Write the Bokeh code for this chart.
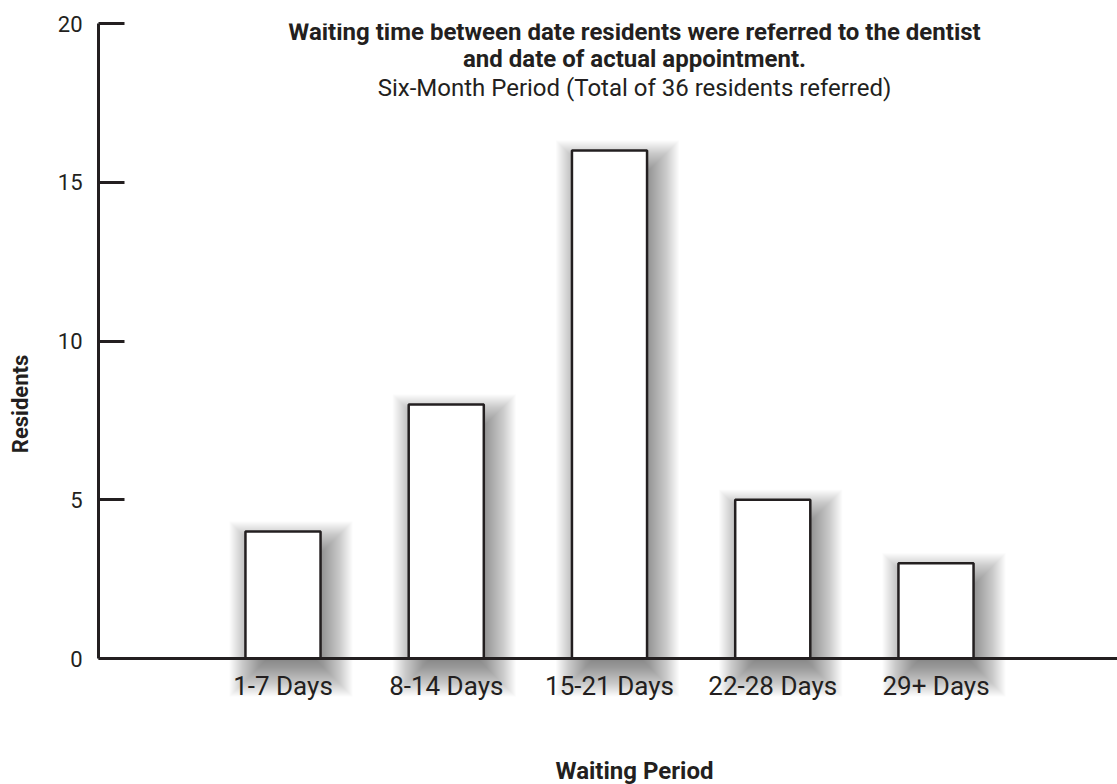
from bokeh.plotting import figure
from bokeh.models import Range1d, Span, FixedTicker, ColumnDataSource
from bokeh.core.properties import value
from bokeh.embed import file_html
from bokeh.resources import INLINE

# ---- data ----
categories = ["1-7 Days", "8-14 Days", "15-21 Days", "22-28 Days", "29+ Days"]
residents = [4, 8, 16, 5, 3]
y_ticks = [0, 5, 10, 15, 20]

title_lines = ["Waiting time between date residents were referred to the dentist",
               "and date of actual appointment."]
subtitle = "Six-Month Period (Total of 36 residents referred)"
x_label = "Waiting Period"
y_label = "Residents"

# ---- layout ----
FONT = "Roboto"
INK = "#231f20"
W, H = 1117, 784
BL, BT, BB, BR = 98, 23, 0, 0
frame_w = W - BL - BR
frame_h = H - BT - BB
ppx = 163.25                    # px per category step
x0 = 1 - (282.5 - 98) / ppx
x1 = x0 + frame_w / ppx
ppy = (658 - 23) / 20.0         # px per resident
y1 = 20
y0 = y1 - frame_h / ppy

xs = [i + 1 for i in range(len(categories))]
bw = 0.46

p = figure(width=W, height=H, output_backend="svg", toolbar_location=None,
           x_range=Range1d(x0, x1), y_range=Range1d(y0, y1),
           min_border_left=BL, min_border_top=BT, min_border_bottom=BB, min_border_right=BR)
p.outline_line_color = None
p.grid.visible = False
p.background_fill_color = "white"

# shadows: layered translucent quads (soft drop shadow)
dx, dy = 8, 14
spreads = list(range(-20, 25, 1))
for s in spreads:
    src = ColumnDataSource(dict(
        left=[x - bw / 2 + (dx - s) / ppx for x in xs],
        right=[x + bw / 2 + (dx + s) / ppx for x in xs],
        top=[v - (dy - s) / ppy for v in residents],
        bottom=[0 - (dy + s) / ppy for _ in residents],
    ))
    p.quad(left="left", right="right", top="top", bottom="bottom", source=src,
           fill_color="#40404c", fill_alpha=0.021, line_color=None)

# bars
p.vbar(x=xs, top=residents, width=bw, bottom=0, fill_color="white",
       line_color=INK, line_width=2.5)

# x axis line at 0
p.add_layout(Span(location=0, dimension="width", line_color=INK, line_width=3))

# category labels
p.text(x=xs, y=[-(27 / ppy)] * len(xs), text=categories, text_align="center",
       text_baseline="middle", text_font=value(FONT), text_font_size="26px",
       text_color=INK)

# axes
p.xaxis.visible = False
ya = p.yaxis[0]
ya.bounds = (0, 20)
ya.ticker = FixedTicker(ticks=y_ticks)
ya.minor_tick_line_color = None
ya.major_tick_in = 26
ya.major_tick_out = 0
ya.major_tick_line_width = 3
ya.major_tick_line_color = INK
ya.axis_line_width = 3
ya.axis_line_color = INK
ya.major_label_standoff = 16
ya.major_label_text_font = FONT
ya.major_label_text_font_size = "22px"
ya.major_label_text_color = INK
ya.axis_label = y_label
ya.axis_label_standoff = 22
ya.axis_label_text_font = FONT
ya.axis_label_text_font_size = "22px"
ya.axis_label_text_font_style = "bold"
ya.axis_label_text_color = INK

tx = 1 + (634 - 282.5) / ppx
p.text(x=[tx, tx], y=[(658 - 31) / ppy, (658 - 58) / ppy], text=title_lines,
       text_align="center", text_baseline="middle", text_font=value(FONT),
       text_font_size="24px", text_font_style="bold", text_color=INK)
p.text(x=[tx], y=[(658 - 87) / ppy], text=[subtitle], text_align="center",
       text_baseline="middle", text_font=value(FONT), text_font_size="24px",
       text_color=INK)
p.text(x=[tx], y=[-(770 - 658) / ppy], text=[x_label],
       text_align="center", text_baseline="middle", text_font=value(FONT),
       text_font_size="24px", text_font_style="bold", text_color=INK)

open("out.html", "w").write(file_html(p, INLINE))
